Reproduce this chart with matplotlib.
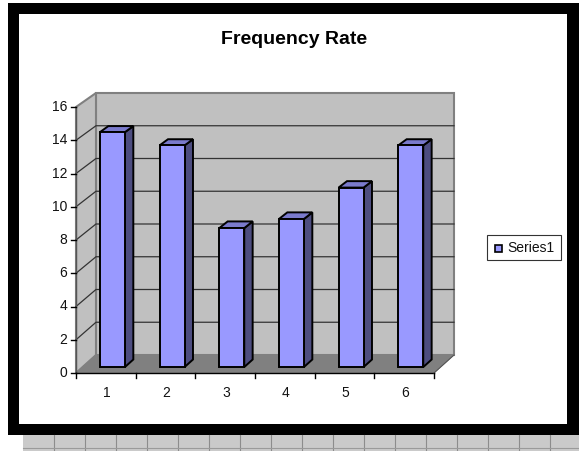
#!/usr/bin/env python3
"""Frequency Rate, 3D-look column chart on a black frame."""
import matplotlib
matplotlib.use("Agg")
import matplotlib.pyplot as plt
from matplotlib.patches import Polygon, Rectangle

plt.rcParams["font.family"] = ["Liberation Sans", "DejaVu Sans"]

W, H = 579, 451

categories = ["1", "2", "3", "4", "5", "6"]
values = [14.2, 13.4, 8.4, 8.95, 10.85, 13.4]
y_ticks = [0, 2, 4, 6, 8, 10, 12, 14, 16]
series_name = "Series1"
title = "Frequency Rate"

FRONT = "#9999FF"
SIDE = "#4D4D80"
TOP = "#7A7ACC"
WALL = "#C0C0C0"
FLOOR = "#808080"

X_UNIT = 59.7  # px per category
Y_UNIT = 16.62  # px per value unit


def proj(x, y, d):
    # d is depth, 0 = front plane, 1 = back wall
    dy_px = 18 - 4 * y / 16
    return x + d * 20 / X_UNIT, y + d * dy_px / Y_UNIT


def poly(ax, pts, **kw):
    kw.setdefault("clip_on", False)
    ax.add_patch(Polygon(pts, closed=True, **kw))


fig = plt.figure(figsize=(W / 100, H / 100), dpi=100, facecolor="white")

# page behind the chart: frame and the sheet grid showing below it
bg = fig.add_axes([0, 0, 1, 1])
bg.set_xlim(0, W); bg.set_ylim(H, 0); bg.axis("off")
bg.add_patch(Rectangle((23, 435), W - 23, 16, fc="#CACACA", ec="none"))
for gx in range(54, W, 31):
    bg.plot([gx, gx], [435, H], color="#8C8C8C", lw=0.8)
bg.plot([23, W], [448, 448], color="#9A9A9A", lw=0.8)
bg.add_patch(Rectangle((8, 3), W - 8, 432, fc="black", ec="none"))
bg.add_patch(Rectangle((18.5, 14), 567 - 18.5, 410, fc="white", ec="none"))

ax = fig.add_axes([76 / W, 1 - 373 / H, 358 / W, 266 / H])
ax.set_xlim(0.5, 6.5); ax.set_ylim(0, 16)
ax.patch.set_visible(False)
for s in ax.spines.values():
    s.set_visible(False)
ax.set_xticks([]); ax.set_yticks([])

xl, xr = 0.5, 6.5
wall_kw = dict(fc=WALL, ec=FLOOR, lw=1.5, zorder=1)
# back wall, side wall, floor
poly(ax, [proj(xl, 0, 1), proj(xr, 0, 1), proj(xr, 16, 1), proj(xl, 16, 1)], **wall_kw)
poly(ax, [proj(xl, 0, 0), proj(xl, 0, 1), proj(xl, 16, 1), proj(xl, 16, 0)], **wall_kw)
poly(ax, [proj(xl, 0, 0), proj(xr, 0, 0), proj(xr, 0, 1), proj(xl, 0, 1)],
     fc=FLOOR, ec=FLOOR, lw=0.5, zorder=2)

# gridlines run along the side wall and the back wall
for t in y_ticks[1:-1]:
    pts = [proj(xl, t, 0), proj(xl, t, 1), proj(xr, t, 1)]
    ax.plot([p[0] for p in pts], [p[1] for p in pts], color="#333333", lw=0.9,
            zorder=3, clip_on=False, solid_joinstyle="miter")

# axis lines, ticks
ax.plot([xl, xl], [0, 16], color="#555555", lw=1.0, zorder=4, clip_on=False)
ax.plot([xl, xr], [0, 0], color="black", lw=1.0, zorder=8, clip_on=False)
ax.plot([xr, proj(xr, 0, 1)[0]], [0, proj(xr, 0, 1)[1]], color="#555555", lw=0.8, zorder=8, clip_on=False)
for t in y_ticks:
    ax.plot([xl - 5 / X_UNIT, xl], [t, t], color="black", lw=1.0, clip_on=False, zorder=8)
    ax.text(xl - 9 / X_UNIT, t, str(t), ha="right", va="center", fontsize=10, color="#111111")
for i in range(len(categories) + 1):
    ax.plot([xl + i, xl + i], [0, -5 / Y_UNIT], color="black", lw=1.0, clip_on=False, zorder=8)
for i, c in enumerate(categories):
    ax.text(i + 1 + 1 / X_UNIT, -20 / Y_UNIT, c, ha="center", va="center", fontsize=10, color="#111111")

# columns
half = 12.5 / X_UNIT
d0, d1 = 0.33, 0.75
for i, v in enumerate(values):
    a, b = i + 1 - half, i + 1 + half
    lw = 1.4
    poly(ax, [proj(a, 0, d0), proj(b, 0, d0), proj(b, v, d0), proj(a, v, d0)],
         fc=FRONT, ec="black", lw=lw, zorder=6, joinstyle="miter")
    poly(ax, [proj(b, 0, d0), proj(b, 0, d1), proj(b, v, d1), proj(b, v, d0)],
         fc=SIDE, ec="black", lw=lw, zorder=5, joinstyle="miter")
    poly(ax, [proj(a, v, d0), proj(b, v, d0), proj(b, v, d1), proj(a, v, d1)],
         fc=TOP, ec="black", lw=lw, zorder=5, joinstyle="miter")

fig.text(294.5 / W, 1 - 39 / H, title, ha="center", va="center", fontsize=14, fontweight="bold", color="black")

# legend box
bg.add_patch(Rectangle((487, 235), 74, 25, fc="white", ec="#333333", lw=0.8))
bg.add_patch(Rectangle((494.5, 245), 7, 7, fc=FRONT, ec="black", lw=1.2))
bg.text(507.5, 247.5, series_name, ha="left", va="center", fontsize=10, color="#111111")

fig.savefig("out.png", dpi=100)
